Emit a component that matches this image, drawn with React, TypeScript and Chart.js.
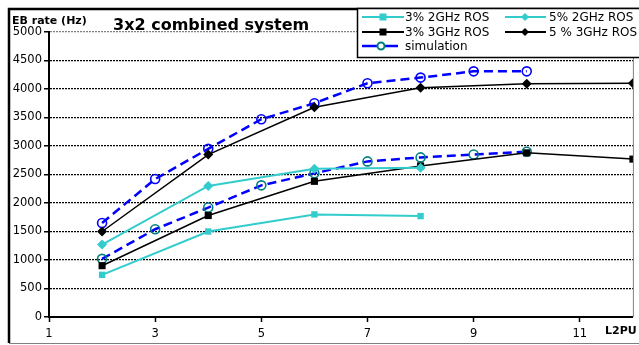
import React, { useEffect, useRef } from "react";
import { Chart, registerables } from "chart.js";

Chart.register(...registerables);

const FONT = "'DejaVu Sans', 'Liberation Sans', sans-serif";

const xTicks = [1, 3, 5, 7, 9, 11];

const x3pct2GHz = [2, 4, 6, 8];
const y3pct2GHz = [740, 1500, 1800, 1770];

const x5pct2GHz = [2, 4, 6, 8];
const y5pct2GHz = [1270, 2300, 2600, 2620];

const x3pct3GHz = [2, 4, 6, 8, 10, 12];
const y3pct3GHz = [900, 1780, 2380, 2650, 2880, 2770];

const x5pct3GHz = [2, 4, 6, 8, 10, 12];
const y5pct3GHz = [1500, 2850, 3680, 4020, 4090, 4100];

const simX = [2, 3, 4, 5, 6, 7, 8, 9, 10];
const simHigh = [1650, 2420, 2950, 3470, 3750, 4100, 4200, 4310, 4310];
const simLow = [1020, 1540, 1920, 2310, 2520, 2730, 2800, 2850, 2900];

const CYAN = "#33CCCC";
const BLUE = "#0000FF";
const TEAL = "#008080";

const pts = (xs: number[], ys: number[]) => xs.map((x, i) => ({ x, y: ys[i] }));

const decorPlugin = {
  id: "decor",
  beforeDraw(chart: any) {
    const ctx = chart.ctx;
    ctx.save();
    ctx.fillStyle = "#fff";
    ctx.fillRect(0, 0, chart.width, chart.height);
    // outer frame
    ctx.strokeStyle = "#000";
    ctx.lineWidth = 2.5;
    ctx.beginPath();
    ctx.moveTo(9, 343);
    ctx.lineTo(9, 9);
    ctx.lineTo(chart.width + 2, 9);
    ctx.stroke();
    ctx.strokeStyle = "#808080";
    ctx.lineWidth = 1;
    ctx.beginPath();
    ctx.moveTo(9, 343.5);
    ctx.lineTo(chart.width, 343.5);
    ctx.stroke();
    ctx.restore();
  },
  afterDraw(chart: any) {
    const ctx = chart.ctx;
    const a = chart.chartArea;
    ctx.save();
    // plot right border
    ctx.strokeStyle = "#808080";
    ctx.lineWidth = 1;
    ctx.beginPath();
    ctx.moveTo(a.right + 0.5, a.top);
    ctx.lineTo(a.right + 0.5, a.bottom);
    ctx.stroke();

    // texts
    ctx.fillStyle = "#000";
    ctx.textBaseline = "alphabetic";
    ctx.textAlign = "left";
    ctx.font = `bold 16px ${FONT}`;
    ctx.fillText("3x2 combined system", 113, 30);
    ctx.font = `bold 11px ${FONT}`;
    ctx.fillText("EB rate (Hz)", 12, 24);
    ctx.fillText("L2PU", 605, 334);

    // legend
    const lx = 357, ly = 8, lw = 300, lh = 49;
    ctx.fillStyle = "#fff";
    ctx.fillRect(lx, ly, lw, lh);
    ctx.strokeStyle = "#000";
    ctx.lineWidth = 1.5;
    ctx.strokeRect(lx + 0.5, ly + 0.5, lw, lh);

    const rows = [17, 32, 46];
    const items = [
      { col: 0, row: 0, label: "3% 2GHz ROS", color: CYAN, marker: "square", mcolor: CYAN },
      { col: 1, row: 0, label: "5% 2GHz ROS", color: CYAN, marker: "diamond", mcolor: CYAN },
      { col: 0, row: 1, label: "3% 3GHz ROS", color: "#000", marker: "square", mcolor: "#000" },
      { col: 1, row: 1, label: "5 % 3GHz ROS", color: "#000", marker: "diamond", mcolor: "#000" },
      { col: 0, row: 2, label: "simulation", color: BLUE, marker: "circle", mcolor: TEAL },
    ];
    ctx.font = `12px ${FONT}`;
    ctx.textBaseline = "middle";
    for (const it of items) {
      const x0 = it.col === 0 ? 362 : 505;
      const x1 = it.col === 0 ? (it.marker === "circle" ? 398 : 404) : 546;
      const y = rows[it.row];
      const mx = it.col === 0 ? 383 : 525;
      ctx.strokeStyle = it.color;
      ctx.lineWidth = it.marker === "circle" ? 2.5 : 2;
      ctx.beginPath();
      ctx.moveTo(x0, y);
      ctx.lineTo(x1, y);
      ctx.stroke();
      if (it.marker === "square") {
        ctx.fillStyle = it.mcolor;
        ctx.fillRect(mx - 3.5, y - 3.5, 7, 7);
      } else if (it.marker === "diamond") {
        ctx.fillStyle = it.mcolor;
        ctx.beginPath();
        ctx.moveTo(mx, y - 4);
        ctx.lineTo(mx + 4, y);
        ctx.lineTo(mx, y + 4);
        ctx.lineTo(mx - 4, y);
        ctx.closePath();
        ctx.fill();
      } else {
        ctx.fillStyle = "#fff";
        ctx.strokeStyle = it.mcolor;
        ctx.lineWidth = 2;
        ctx.beginPath();
        ctx.arc(mx - 2, y, 3.5, 0, Math.PI * 2);
        ctx.fill();
        ctx.stroke();
      }
      ctx.fillStyle = "#000";
      ctx.fillText(it.label, it.col === 0 ? 405 : 549, y + 0.5);
    }
    ctx.restore();
  },
};

export default function App() {
  const ref = useRef<HTMLCanvasElement>(null);

  useEffect(() => {
    if (!ref.current) return;
    const chart = new Chart(ref.current, {
      type: "line",
      data: {
        datasets: [
          {
            label: "3% 2GHz ROS",
            data: pts(x3pct2GHz, y3pct2GHz),
            borderColor: CYAN,
            backgroundColor: CYAN,
            borderWidth: 2,
            pointStyle: "rect",
            pointRadius: 4.5,
            pointBorderWidth: 0,
          },
          {
            label: "5% 2GHz ROS",
            data: pts(x5pct2GHz, y5pct2GHz),
            borderColor: CYAN,
            backgroundColor: CYAN,
            borderWidth: 2,
            pointStyle: "rectRot",
            pointRadius: 5,
            pointBorderWidth: 0,
          },
          {
            label: "3% 3GHz ROS",
            data: pts(x3pct3GHz, y3pct3GHz),
            borderColor: "#000",
            backgroundColor: "#000",
            borderWidth: 1.5,
            pointStyle: "rect",
            pointRadius: 5,
            pointBorderWidth: 0,
          },
          {
            label: "5 % 3GHz ROS",
            data: pts(x5pct3GHz, y5pct3GHz),
            borderColor: "#000",
            backgroundColor: "#000",
            borderWidth: 1.5,
            pointStyle: "rectRot",
            pointRadius: 5,
            pointBorderWidth: 0,
          },
          {
            label: "simulation",
            data: pts(simX, simHigh),
            borderColor: BLUE,
            backgroundColor: BLUE,
            borderWidth: 2.5,
            borderDash: [9, 5],
            pointStyle: "circle",
            pointRadius: 4.5,
            pointBorderWidth: 1.6,
            pointBorderColor: BLUE,
            pointBackgroundColor: "rgba(255,255,255,0)",
          },
          {
            label: "simulation",
            data: pts(simX, simLow),
            borderColor: BLUE,
            backgroundColor: BLUE,
            borderWidth: 2.5,
            borderDash: [9, 5],
            pointStyle: "circle",
            pointRadius: 4.5,
            pointBorderWidth: 1.6,
            pointBorderColor: TEAL,
            pointBackgroundColor: "rgba(255,255,255,0)",
          },
        ],
      },
      options: {
        animation: false,
        responsive: false,
        devicePixelRatio: 1,
        layout: { padding: { left: 0, top: 32, right: 6, bottom: 0 } },
        plugins: {
          legend: { display: false },
          tooltip: { enabled: false },
          title: { display: false },
        },
        scales: {
          x: {
            type: "linear",
            min: 1,
            max: 12,
            afterBuildTicks: (s: any) => {
              s.ticks = xTicks.map((v) => ({ value: v }));
            },
            ticks: {
              color: "#000",
              font: { family: FONT, size: 11.5 },
              padding: 5,
              maxRotation: 0,
              autoSkip: false,
              callback: (v: any) => String(v),
            },
            grid: {
              drawOnChartArea: false,
              drawTicks: true,
              tickLength: 5,
              tickColor: "#000",
              tickWidth: 1.5,
            },
            border: { display: true, color: "#000", width: 2 },
            afterFit: (s: any) => {
              s.height = 28;
            },
          },
          y: {
            type: "linear",
            min: 0,
            max: 5000,
            ticks: {
              stepSize: 500,
              color: "#000",
              font: { family: FONT, size: 11.5 },
              padding: 2,
              callback: (v: any) => String(v),
            },
            grid: {
              color: (c: any) => (c.tick && c.tick.value === 5000 ? "#808080" : "#000"),
              lineWidth: 1.3,
              drawTicks: true,
              tickLength: 5,
              tickColor: "#000",
              tickWidth: 1.5,
              tickBorderDash: [1, 0],
            },
            border: { display: true, color: "#000", width: 2, dash: [2, 1] },
            afterFit: (s: any) => {
              s.width = 49;
            },
          },
        },
      } as any,
      plugins: [decorPlugin],
    });
    return () => chart.destroy();
  }, []);

  return (
    <div style={{ position: "absolute", left: 0, top: 0, width: 639, height: 345 }}>
      <canvas ref={ref} width={639} height={345} style={{ display: "block" }} />
    </div>
  );
}
